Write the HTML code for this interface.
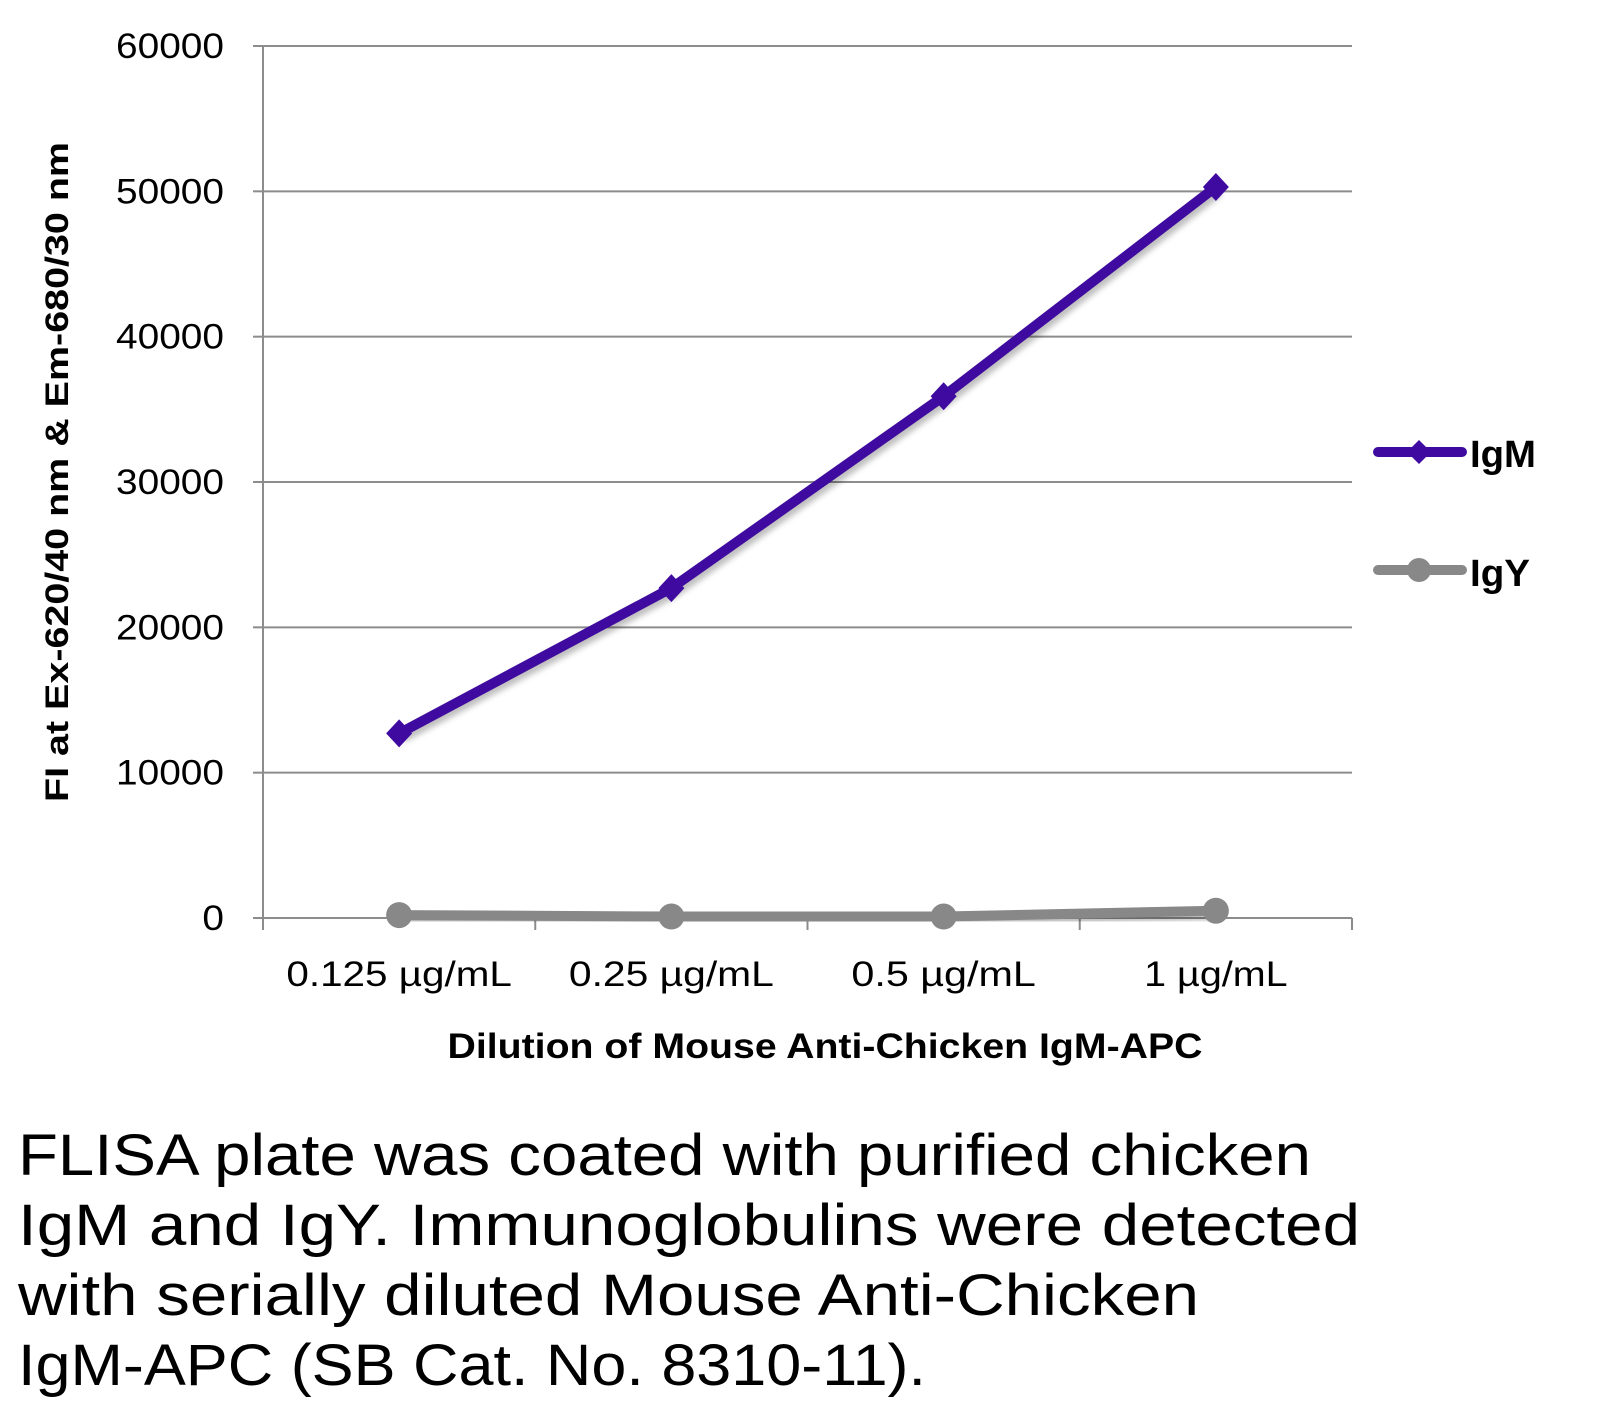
<!DOCTYPE html>
<html><head><meta charset="utf-8"><style>
html,body{margin:0;padding:0;background:#fff}
svg{display:block}
text{font-family:"Liberation Sans",sans-serif}
</style></head><body>
<svg id="chart" width="1602" height="1419" viewBox="0 0 1602 1419" xmlns="http://www.w3.org/2000/svg">
<defs><filter id="sh" x="-10%" y="-10%" width="120%" height="120%"><feGaussianBlur stdDeviation="3"/></filter></defs>
<g id="grid"></g>
<g id="axes"></g>
<g id="series"></g>
<text transform="translate(68,472) rotate(-90)" text-anchor="middle" font-size="32" font-weight="bold" textLength="660" lengthAdjust="spacingAndGlyphs">FI at Ex-620/40 nm &amp; Em-680/30 nm</text>
<text x="825" y="1058" text-anchor="middle" font-size="35" font-weight="bold" textLength="755" lengthAdjust="spacingAndGlyphs">Dilution of Mouse Anti-Chicken IgM-APC</text>
<g>
<g>
<line x1="1378" y1="452" x2="1462" y2="452" stroke="#3f0a9f" stroke-width="10" stroke-linecap="round"/>
<polygon points="1419,440 1431,452 1419,464 1407,452" fill="#3f0a9f"/>
<text x="1470" y="467" font-size="38" font-weight="bold" textLength="66" lengthAdjust="spacingAndGlyphs">IgM</text>
</g>
<g>
<line x1="1378" y1="570" x2="1462" y2="570" stroke="#888" stroke-width="10" stroke-linecap="round"/>
<circle cx="1419" cy="570" r="12" fill="#888"/>
<text x="1470" y="586" font-size="38" font-weight="bold" textLength="60" lengthAdjust="spacingAndGlyphs">IgY</text>
</g>
</g>
<g font-size="58">
<text x="18" y="1175" textLength="1293" lengthAdjust="spacingAndGlyphs">FLISA plate was coated with purified chicken</text>
<text x="18" y="1245" textLength="1342" lengthAdjust="spacingAndGlyphs">IgM and IgY.  Immunoglobulins were detected</text>
<text x="18" y="1315" textLength="1181" lengthAdjust="spacingAndGlyphs">with serially diluted Mouse Anti-Chicken</text>
<text x="18" y="1385" textLength="908" lengthAdjust="spacingAndGlyphs">IgM-APC (SB Cat. No. 8310-11).</text>
</g>
</svg>
<script>
const categories=["0.125 µg/mL","0.25 µg/mL","0.5 µg/mL","1 µg/mL"];
const igmValues=[12700,22700,35900,50300];
const igyValues=[200,100,100,500];
const yTicks=[0,10000,20000,30000,40000,50000,60000];
const NS="http://www.w3.org/2000/svg";
const L=263,R=1352,T=46,B=918,yMax=60000;
const band=(R-L)/categories.length;
function xPos(i){return L+band*(i+0.5);}
function yPos(v){return B-(v/yMax)*(B-T);}
function mk(tag,attrs,parent){const e=document.createElementNS(NS,tag);for(const k in attrs)e.setAttribute(k,attrs[k]);parent.appendChild(e);return e;}
const grid=document.getElementById('grid'),axes=document.getElementById('axes'),ser=document.getElementById('series');
yTicks.forEach(v=>{
  const y=yPos(v);
  if(v>0){const g=mk('line',{x1:L,x2:R,y1:y,y2:y,stroke:'#8c8c8c','stroke-width':2},grid);
  
  }
  mk('line',{x1:L-10,x2:L,y1:y,y2:y,stroke:'#8c8c8c','stroke-width':2},axes);
  const s=String(v);
  const t=mk('text',{x:224,y:y+12,'text-anchor':'end','font-size':35,textLength:s.length*21.6,lengthAdjust:'spacingAndGlyphs'},axes);
  t.textContent=s;
  
  
});
mk('line',{x1:L,x2:L,y1:T,y2:B,stroke:'#8c8c8c','stroke-width':2},axes);
mk('line',{x1:L,x2:R,y1:B,y2:B,stroke:'#8c8c8c','stroke-width':2},axes);
for(let i=0;i<=categories.length;i++){mk('line',{x1:L+band*i,x2:L+band*i,y1:B,y2:B+12,stroke:'#8c8c8c','stroke-width':2},axes);}
categories.forEach((c,i)=>{
  const t=mk('text',{x:xPos(i),y:986,'text-anchor':'middle','font-size':35,textLength:c.length*20.5,lengthAdjust:'spacingAndGlyphs'},axes);
  t.textContent=c;
  
  
});
function drawSeries(vals,color,shape,name){
  const pts=vals.map((v,i)=>xPos(i)+','+yPos(v)).join(' ');
  mk('polyline',{points:pts,fill:'none',stroke:'#000','stroke-opacity':0.25,'stroke-width':11,transform:'translate(3,4)',filter:'url(#sh)'},ser);
  const pl=mk('polyline',{points:pts,fill:'none',stroke:color,'stroke-width':10,'stroke-linejoin':'round'},ser);
  
  
  vals.forEach((v,i)=>{
    const x=xPos(i),y=yPos(v);let m;
    if(shape==='diamond')m=mk('polygon',{points:`${x},${y-14} ${x+13},${y} ${x},${y+14} ${x-13},${y}`,fill:color},ser);
    else m=mk('circle',{cx:x,cy:y,r:13,fill:color},ser);
    
    
  });
}
drawSeries(igyValues,'#888','circle','igy');
drawSeries(igmValues,'#3f0a9f','diamond','igm');
</script>
</body></html>
